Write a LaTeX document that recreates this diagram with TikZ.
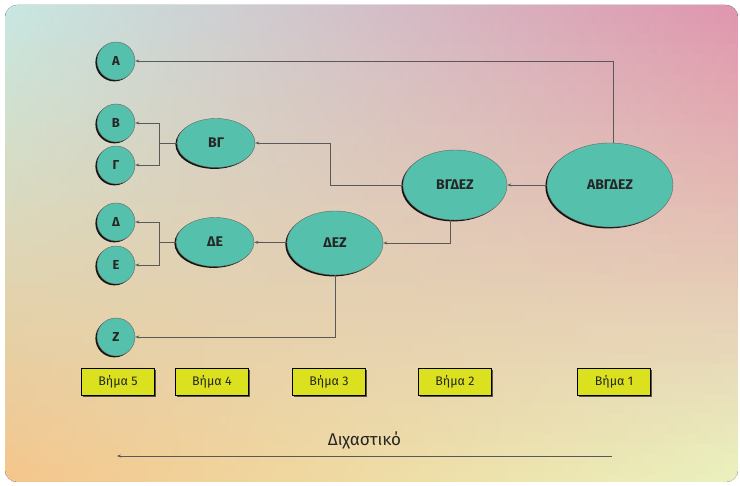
\documentclass[tikz,border=0pt]{standalone}
\usepackage{fontspec}
\setmainfont{Fira Sans}
\usetikzlibrary{shapes.geometric, arrows.meta, positioning, shadows}
\definecolor{nodeteal}{HTML}{55C1AC}
\definecolor{stepyellow}{HTML}{DCE11F}
\definecolor{bgtopleft}{HTML}{C7E7E1}
\definecolor{bgtopright}{HTML}{E096AE}
\definecolor{bgbottomleft}{HTML}{F4C68C}
\definecolor{bgbottomright}{HTML}{EAF1BD}

\begin{document}
\begin{tikzpicture}[
    x=1pt, y=-1pt,
    leaf/.style={circle, draw=black!60, thin, fill=nodeteal, minimum size=38pt, inner sep=0pt,
        font=\fontsize{13}{15}\selectfont\bfseries, text=black!85,
        drop shadow={shadow xshift=-1.6pt, shadow yshift=-1.4pt, fill=black, opacity=0.9}},
    group/.style={ellipse, draw=black!60, thin, fill=nodeteal, inner sep=0pt,
        font=\fontsize{14}{16}\selectfont\bfseries, text=black!85,
        drop shadow={shadow xshift=-1.6pt, shadow yshift=-1.4pt, fill=black, opacity=0.9}},
    stepbox/.style={rectangle, draw=black, fill=stepyellow, minimum width=73pt, minimum height=27pt,
        font=\fontsize{12.5}{14}\selectfont, text=black!85,
        drop shadow={shadow xshift=1.5pt, shadow yshift=-1.5pt, fill=black!80, opacity=0.8}},
    arrow/.style={draw=black!65, -{Stealth[length=4pt, width=3pt]}, line width=0.8pt},
    link/.style={draw=black!65, line width=0.8pt}
]
\useasboundingbox (0,0) rectangle (740,486);

% Background
\begin{scope}
  \clip[rounded corners=12pt] (5,5) rectangle (738,482);
  \foreach \i in {0,...,47} {
    \pgfmathtruncatemacro\mixpct{round(100*\i/47)}
    \fill[left color=bgbottomleft!\mixpct!bgtopleft, right color=bgbottomright!\mixpct!bgtopright]
      (5,{5+10*\i-0.5}) rectangle (738,{15.5+10*\i});
  }
\end{scope}

% Groups
\node[group, minimum width=126pt, minimum height=84pt] (abgdez) at (610,185) {ΑΒΓΔΕΖ};
\node[group, minimum width=104pt, minimum height=70pt] (bgdez) at (455,185) {ΒΓΔΕΖ};
\node[group, minimum width=96pt, minimum height=64pt] (dez) at (335,243) {ΔΕΖ};
\node[group, minimum width=78pt, minimum height=49pt] (bg) at (216,143) {ΒΓ};
\node[group, minimum width=78pt, minimum height=49pt] (de) at (215,242) {ΔΕ};

% Leaves
\node[leaf] (a) at (116,61) {Α};
\node[leaf] (b) at (116,123) {Β};
\node[leaf] (g) at (116,165) {Γ};
\node[leaf] (d) at (116,222) {Δ};
\node[leaf] (e) at (116,265) {Ε};
\node[leaf] (z) at (116,337) {Ζ};

% Steps
\node[stepbox] (step5) at (118,382) {Βήμα 5};
\node[stepbox] (step4) at (212,382) {Βήμα 4};
\node[stepbox] (step3) at (329,382) {Βήμα 3};
\node[stepbox] (step2) at (455,382) {Βήμα 2};
\node[stepbox] (step1) at (614,382) {Βήμα 1};

% Connectors
\draw[arrow] ([xshift=3pt]abgdez.north) |- (a);
\draw[arrow] (abgdez) -- (bgdez);
\draw[arrow] (bgdez.west) -- ++(-72,0) |- (bg);
\draw[arrow] ([xshift=-5pt]bgdez.south) |- (dez);
\draw[arrow] (dez) -- (de);
\draw[arrow] (dez.south) |- (z);
\draw[link] (bg.west) -- ++(-17,0) coordinate (bgfork);
\draw[arrow] (bgfork) |- (b);
\draw[arrow] (bgfork) |- (g);
\draw[link] (de.west) -- ++(-16,0) coordinate (defork);
\draw[arrow] (defork) |- (d);
\draw[arrow] (defork) |- (e);

% Direction
\coordinate (splitstart) at (612,456);
\coordinate (splitend) at (117,456);
\draw[arrow] (splitstart) -- node[above=3pt, font=\fontsize{17}{20}\selectfont, text=black!85] (splitlabel) {Διχαστικό} (splitend);

\end{tikzpicture}
\end{document}
